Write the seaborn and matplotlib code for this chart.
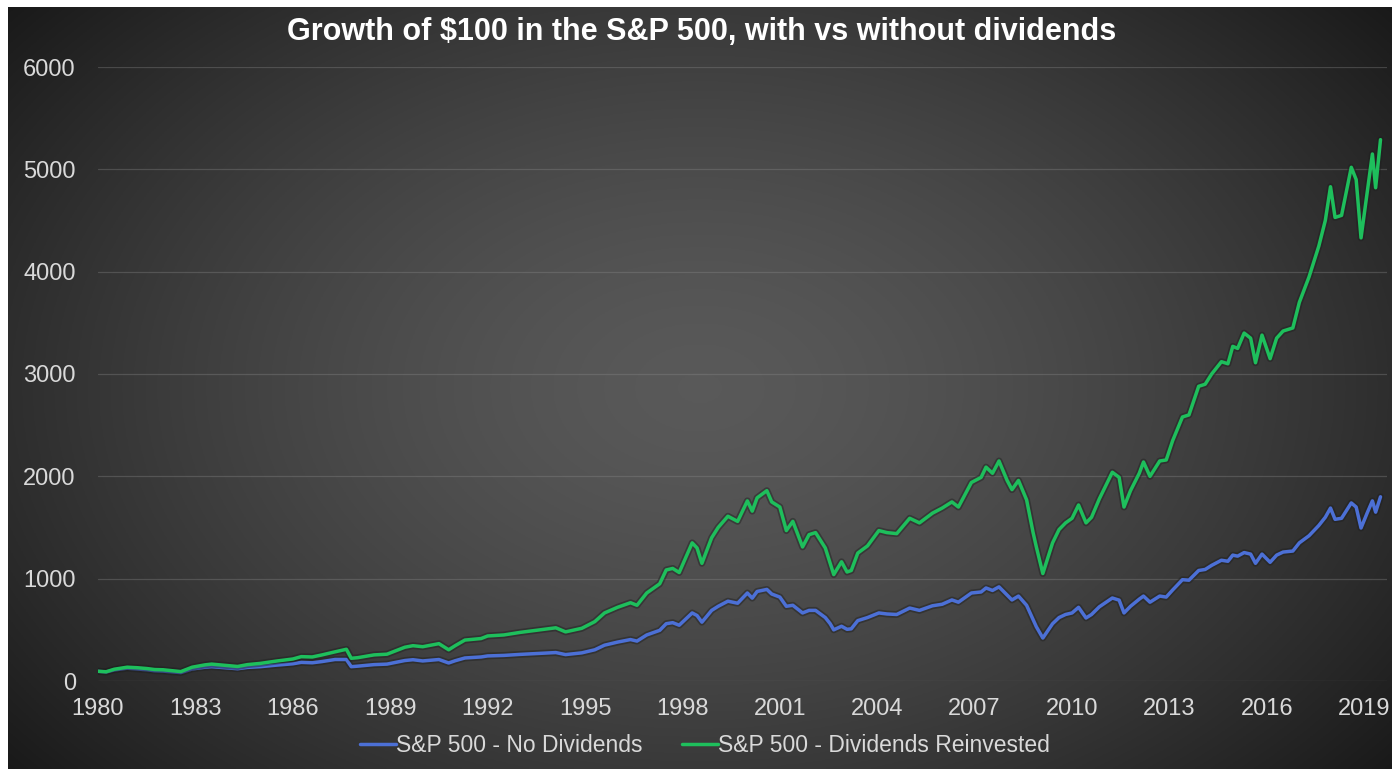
import numpy as np
import pandas as pd
import matplotlib
matplotlib.use('Agg')
import matplotlib.pyplot as plt
import matplotlib.patheffects as pe
from matplotlib.lines import Line2D
import seaborn as sns

# values (decimal year, growth of $100)
dates = [1980.00, 1980.25, 1980.50, 1980.90, 1981.20, 1981.50, 1981.75, 1982.00, 1982.55, 1982.90,
         1983.30, 1983.50, 1984.00, 1984.30, 1984.60, 1985.00, 1985.50, 1986.00, 1986.26, 1986.60,
         1986.90, 1987.30, 1987.65, 1987.80, 1988.00, 1988.50, 1988.90, 1989.45, 1989.70, 1990.00,
         1990.50, 1990.80, 1991.00, 1991.30, 1991.80, 1992.00, 1992.50, 1993.00, 1993.50, 1994.10,
         1994.40, 1994.90, 1995.30, 1995.60, 1996.00, 1996.40, 1996.60, 1996.90, 1997.30, 1997.50,
         1997.70, 1997.90, 1998.30, 1998.45, 1998.60, 1998.90, 1999.10, 1999.40, 1999.70, 2000.00,
         2000.15, 2000.30, 2000.60, 2000.75, 2001.00, 2001.20, 2001.40, 2001.70, 2001.90, 2002.10,
         2002.40, 2002.55, 2002.66, 2002.90, 2003.07, 2003.20, 2003.40, 2003.70, 2004.05, 2004.30,
         2004.60, 2005.00, 2005.30, 2005.70, 2006.00, 2006.30, 2006.50, 2006.90, 2007.20, 2007.35,
         2007.55, 2007.75, 2008.00, 2008.15, 2008.35, 2008.60, 2008.80, 2008.90, 2009.10, 2009.40,
         2009.60, 2009.80, 2010.00, 2010.20, 2010.43, 2010.60, 2010.84, 2011.24, 2011.45, 2011.60,
         2011.80, 2012.07, 2012.20, 2012.40, 2012.70, 2012.90, 2013.10, 2013.40, 2013.60, 2013.90,
         2014.10, 2014.30, 2014.60, 2014.80, 2014.95, 2015.10, 2015.30, 2015.50, 2015.65, 2015.85,
         2016.10, 2016.30, 2016.50, 2016.80, 2017.00, 2017.30, 2017.60, 2017.80, 2017.96, 2018.10,
         2018.30, 2018.60, 2018.75, 2018.90, 2019.10, 2019.25, 2019.35, 2019.50]

no_div = [95, 88, 108, 125, 118, 110, 100, 97, 82, 118,
          135, 140, 128, 120, 133, 140, 155, 168, 182, 178,
          190, 210, 210, 140, 145, 160, 165, 200, 208, 196,
          210, 176, 198, 225, 235, 245, 250, 260, 268, 278,
          258, 275, 305, 350, 380, 405, 390, 450, 495, 560,
          570, 545, 665, 640, 575, 690, 730, 780, 760, 860,
          810, 875, 895, 850, 820, 730, 740, 665, 690, 690,
          620, 560, 500, 535, 505, 510, 590, 620, 665, 655,
          650, 713, 690, 735, 750, 792, 770, 860, 870, 909,
          885, 920, 840, 792, 830, 740, 600, 530, 420, 560,
          620, 650, 665, 720, 616, 650, 725, 811, 790, 665,
          730, 800, 830, 770, 830, 820, 890, 990, 985, 1080,
          1090, 1130, 1180, 1170, 1230, 1220, 1255, 1240, 1150, 1240,
          1160, 1230, 1260, 1270, 1350, 1420, 1520, 1600, 1690, 1580,
          1590, 1740, 1700, 1495, 1650, 1760, 1650, 1800]

div_reinvested = [95, 90, 115, 135, 130, 122, 112, 110, 92, 135,
                  158, 165, 150, 142, 160, 172, 195, 215, 238, 235,
                  255, 285, 310, 222, 228, 255, 262, 330, 345, 335,
                  365, 305, 345, 400, 415, 440, 450, 475, 495, 520,
                  480, 515, 580, 665, 720, 765, 740, 860, 950, 1085,
                  1100, 1060, 1350, 1300, 1150, 1400, 1500, 1610, 1560, 1760,
                  1660, 1790, 1860, 1750, 1700, 1470, 1560, 1310, 1430, 1450,
                  1300, 1150, 1040, 1165, 1065, 1080, 1250, 1320, 1470, 1450,
                  1440, 1590, 1545, 1640, 1690, 1750, 1700, 1940, 1990, 2090,
                  2030, 2150, 1960, 1870, 1960, 1770, 1450, 1310, 1050, 1350,
                  1480, 1545, 1590, 1720, 1545, 1600, 1780, 2040, 1990, 1700,
                  1860, 2030, 2140, 2000, 2150, 2160, 2350, 2580, 2600, 2880,
                  2900, 3000, 3120, 3100, 3270, 3250, 3400, 3350, 3110, 3380,
                  3150, 3350, 3420, 3450, 3700, 3950, 4250, 4500, 4830, 4530,
                  4550, 5020, 4900, 4330, 4800, 5150, 4820, 5290]

series_names = ['S&P 500 - No Dividends', 'S&P 500 - Dividends Reinvested']
series_colors = ['#4c70d6', '#1ebf5c']
year_ticks = list(range(1980, 2020, 3))
value_ticks = [0, 1000, 2000, 3000, 4000, 5000, 6000]
title = r'Growth of \$100 in the S&P 500, with vs without dividends'

df = pd.concat([
    pd.DataFrame({'year': dates, 'value': no_div, 'series': series_names[0]}),
    pd.DataFrame({'year': dates, 'value': div_reinvested, 'series': series_names[1]}),
])

sns.set_theme(style='dark')
plt.rcParams['font.family'] = ['Liberation Sans', 'DejaVu Sans']

W, H = 1392, 769
fig = plt.figure(figsize=(W / 100, H / 100), dpi=100)
fig.patch.set_facecolor('white')

# dark panel with a soft radial glow in the middle
bg = fig.add_axes([8 / W, 0, 1 - 8 / W, 1 - 7 / H])
yy, xx = np.mgrid[-1:1:300j, -1:1:540j]
r = np.sqrt(0.6 * xx ** 2 + 0.4 * yy ** 2)
shade = np.clip(0.35 - 0.25 * r ** 1.5, 0, 1)
bg.imshow(np.dstack([shade] * 3), aspect='auto', extent=[0, 1, 0, 1])
bg.set_axis_off()

ax = fig.add_axes([98 / W, 1 - 681 / H, (1387 - 98) / W, (681 - 67) / H])
ax.set_facecolor('none')
sns.lineplot(data=df, x='year', y='value', hue='series',
             palette=dict(zip(series_names, series_colors)),
             linewidth=2.5, estimator=None, sort=False, legend=False, ax=ax)
for line in ax.lines:
    line.set_path_effects([pe.Stroke(linewidth=5, foreground='#1e1e1e', alpha=0.45), pe.Normal()])

ax.set_xlim(1980, 2019.7)
ax.set_ylim(0, 6000)
ax.set_xticks(year_ticks)
ax.set_xticklabels([str(y) for y in year_ticks])
ax.set_yticks(value_ticks)
ax.set_xlabel('')
ax.set_ylabel('')
ax.yaxis.grid(True, color='#8a8a8a', linewidth=0.9, alpha=0.35)
ax.xaxis.grid(False)
for s in ax.spines.values():
    s.set_visible(False)
ax.tick_params(axis='both', colors='#d9d9d9', labelsize=17, length=0)
ax.tick_params(axis='y', pad=16)
ax.tick_params(axis='x', pad=12)

fig.text(702 / W, 1 - 32 / H, title, ha='center', va='center',
         fontsize=22, fontweight='bold', color='white')

handles = [Line2D([], [], color=c, linewidth=2.5) for c in series_colors]
fig.legend(handles, series_names, loc='center', bbox_to_anchor=(705 / W, 1 - 746 / H),
           ncol=2, frameon=False, handlelength=1.6, handletextpad=0.0,
           columnspacing=1.7, fontsize=16.5, labelcolor='#d9d9d9')

fig.savefig('out.png', dpi=100)
